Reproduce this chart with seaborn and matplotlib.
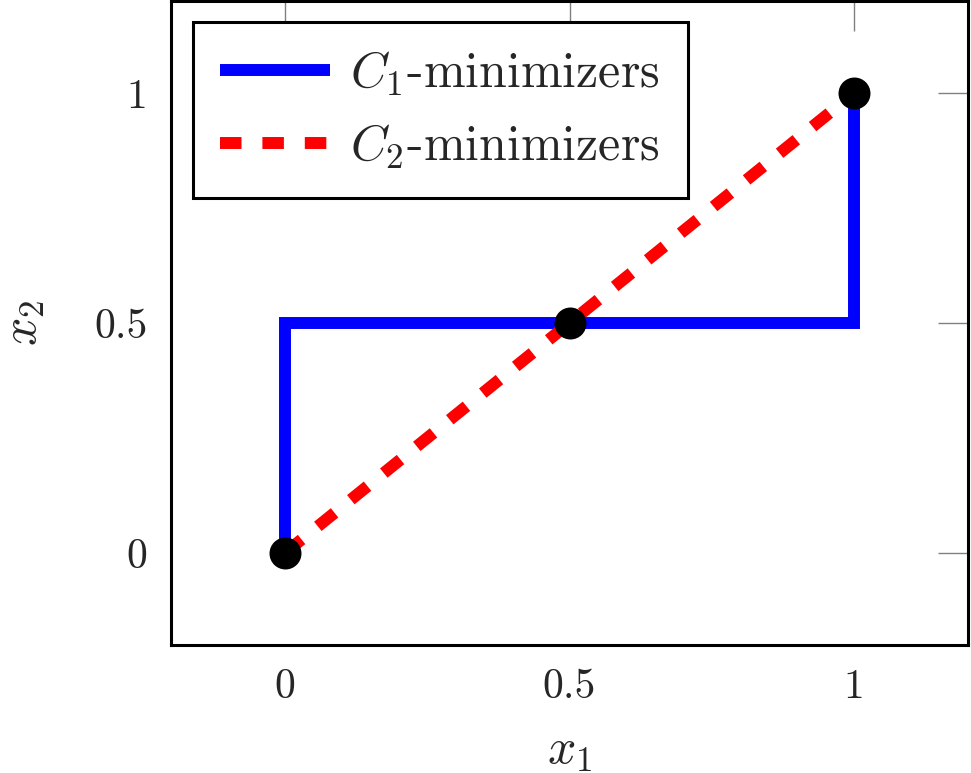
import matplotlib
matplotlib.use("Agg")
import matplotlib.pyplot as plt
import seaborn as sns

# Data
c1_x = [0, 0, 1, 1]
c1_y = [0, 0.5, 0.5, 1]
c2_x = [0, 1]
c2_y = [0, 1]
pts_x = [0, 0.5, 1]
pts_y = [0, 0.5, 1]
tick_vals = [0, 0.5, 1]
tick_labels = ["0", "0.5", "1"]

sns.set_theme(style="white")
plt.rcParams["font.family"] = ["cmr10", "DejaVu Serif"]
plt.rcParams["mathtext.fontset"] = "cm"
plt.rcParams["axes.unicode_minus"] = False

fig = plt.figure(figsize=(9.71, 7.73), dpi=100)
ax = fig.add_axes([171 / 971, 1 - 645 / 773, 797 / 971, 644 / 773])

sns.lineplot(x=c1_x, y=c1_y, sort=False, estimator=None, color="#0000ff",
             linewidth=8.6, label=r"$C_1$-minimizers", ax=ax)
ax.lines[-1].set_solid_joinstyle("miter")
ax.lines[-1].set_solid_capstyle("butt")
sns.lineplot(x=c2_x, y=c2_y, sort=False, estimator=None, color="#ff0000",
             linewidth=8.6, label=r"$C_2$-minimizers", ax=ax)
ax.lines[-1].set_dashes((1.8, 1.75))
ax.lines[-1].set_dash_capstyle("butt")
sns.scatterplot(x=pts_x, y=pts_y, color="black", s=530, linewidth=0,
                zorder=5, ax=ax, legend=False)

ax.set_xlim(-0.2, 1.2)
ax.set_ylim(-0.2, 1.2)
ax.set_xticks(tick_vals)
ax.set_xticklabels(tick_labels)
ax.set_yticks(tick_vals)
ax.set_yticklabels(tick_labels)
ax.tick_params(direction="in", length=21.6, width=1, color="#808080",
               top=True, right=True, labelsize=30, pad=17)
for sp in ax.spines.values():
    sp.set_color("black")
    sp.set_linewidth(2.2)

ax.set_xlabel(r"$x_1$", fontsize=36)
ax.set_ylabel(r"$x_2$", fontsize=36)
ax.xaxis.set_label_coords(0.5, -0.129)
ax.yaxis.set_label_coords(-0.155, 0.5)

leg = ax.legend(loc="upper left", bbox_to_anchor=(0.0276, 0.967),
                borderaxespad=0, fontsize=36, handlelength=2.2,
                handletextpad=0.4, labelspacing=0.48, borderpad=0.55,
                fancybox=False, framealpha=1, edgecolor="black")
leg.get_frame().set_linewidth(2.2)

fig.savefig("out.png", dpi=100)
